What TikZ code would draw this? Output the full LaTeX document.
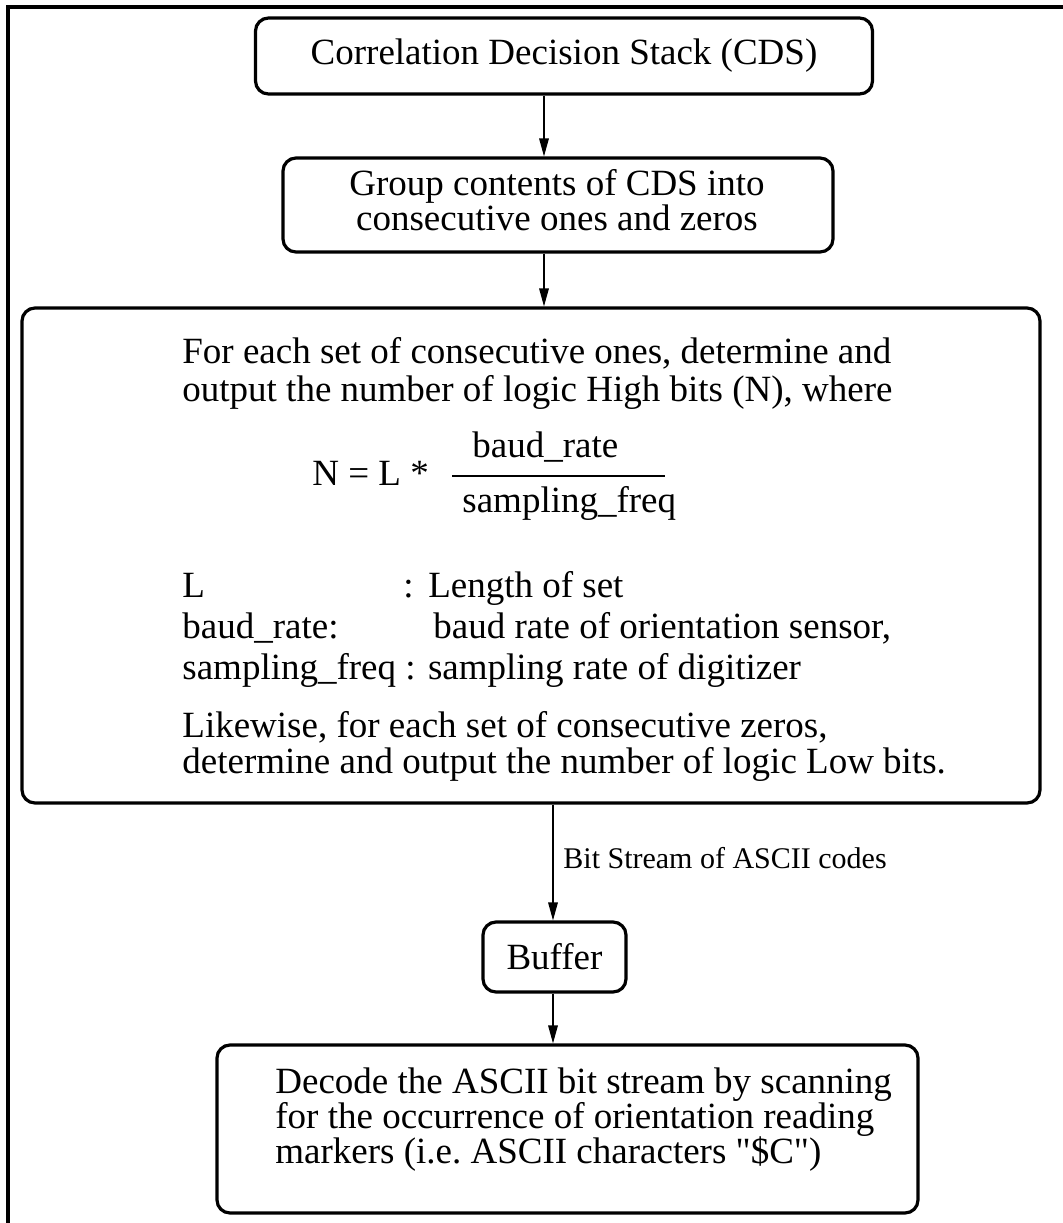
\documentclass[tikz,border=0pt]{standalone}
\usepackage{fontspec}
\setmainfont{Liberation Serif}[Ligatures=TeXOff]
\usetikzlibrary{arrows.meta}
\begin{document}
\begin{tikzpicture}[x=0.5pt,y=-0.5pt,
  box/.style={draw, line width=1.6pt, rounded corners=6.5pt, inner sep=0pt,
              font=\fontsize{18.5}{17.5}\selectfont},
  arr/.style={-{Triangle[length=9pt,width=4.8pt]}, line width=0.65pt},
  txt/.style={inner sep=0pt, anchor=base west, font=\fontsize{18.5}{17.5}\selectfont},
  ctxt/.style={inner sep=0pt, anchor=base, font=\fontsize{18.5}{17.5}\selectfont},
  small/.style={inner sep=0pt, anchor=base west, font=\fontsize{15}{17}\selectfont}]
\useasboundingbox (0,0) rectangle (1063,1223);

% open frame: left and top edges only
\draw[line width=1.6pt] (8,1223) -- (8,7) -- (1063,7);

% boxes
\node[box, minimum width=308.5pt, minimum height=38pt] (b1) at (564,56)
  {Correlation Decision Stack (CDS)};
\node[box, minimum width=275pt, minimum height=47pt] (b2) at (558,205) {};
\node[box, minimum width=509pt, minimum height=247.5pt] (b3) at (531,555.5) {};
\node[box, minimum width=71.5pt, minimum height=35pt] (b4) at (554.5,957) {Buffer};
\node[box, minimum width=350.5pt, minimum height=84pt] (b5) at (567.5,1129) {};

% text of the second box
\node[ctxt] (g1) at (557,195) {Group contents of CDS into};
\node[ctxt] (g2) at (557,230) {consecutive ones and zeros};

% text of the third box
\node[txt] (t1) at (182,363) {For each set of consecutive ones, determine and};
\node[txt] (t2) at (182,401) {output the number of logic High bits (N), where};
\node[txt] (eq) at (312,485) {N = L *};
\node[txt] (num) at (472,457) {baud\_rate};
\node[txt] (den) at (462,512) {sampling\_freq};
\coordinate (fl) at (452,476);
\coordinate (fr) at (665,476);
\draw[line width=0.8pt] (fl) -- (fr);
\node[txt] (d1a) at (182,597) {L};
\node[txt] (d1b) at (403,597) {:\hspace{7.3pt}Length of set};
\node[txt] (d2a) at (182,638) {baud\_rate:};
\node[txt] (d2b) at (433,638) {baud rate of orientation sensor,};
\node[txt] (d3) at (182,679) {sampling\_freq : sampling rate of digitizer};
\node[txt] (t3) at (182,737) {Likewise, for each set of consecutive zeros,};
\node[txt] (t4) at (182,773) {determine and output the number of logic Low bits.};

% text of the last box
\node[txt] (e1) at (275,1093) {Decode the ASCII bit stream by scanning};
\node[txt] (e2) at (275,1128) {for the occurrence of orientation reading};
\node[txt] (e3) at (275,1163) {markers (i.e.\ ASCII characters "\$C")};

% connectors
\coordinate (ax1) at (544,0);
\coordinate (ax2) at (553,0);
\draw[arr] (b1.south -| ax1) -- (b2.north -| ax1);
\draw[arr] (b2.south -| ax1) -- (b3.north -| ax1);
\draw[arr] (b3.south -| ax2) -- (b4.north -| ax2);
\draw[arr] (b4.south -| ax2) -- (b5.north -| ax2);
\node[small] (lbl) at (563,868) {Bit Stream of ASCII codes};
\end{tikzpicture}
\end{document}
